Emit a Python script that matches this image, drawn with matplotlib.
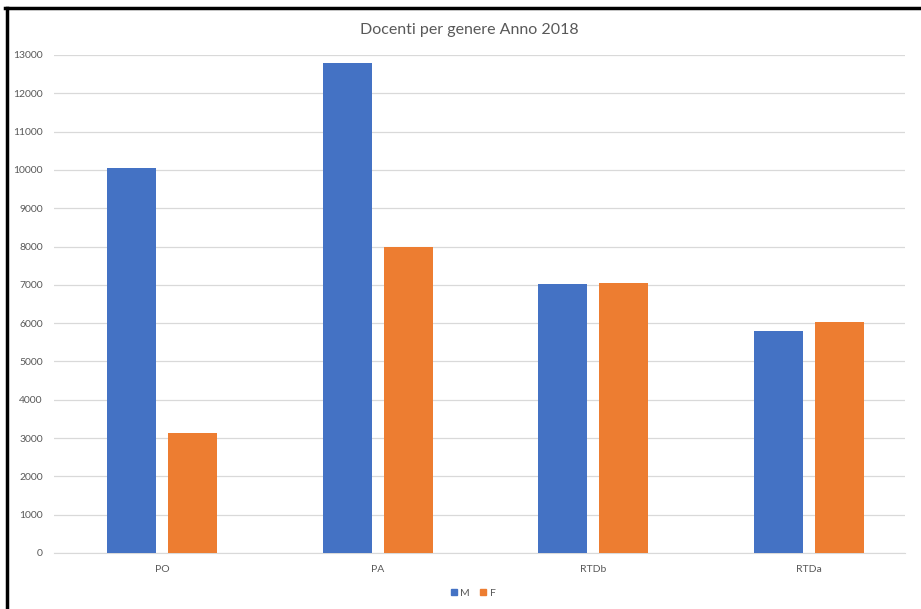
import numpy as np
import matplotlib
matplotlib.use("Agg")
import matplotlib.pyplot as plt
from matplotlib.lines import Line2D

categories = ["PO", "PA", "RTDb", "RTDa"]
maschi = [10050, 12790, 7010, 5790]
femmine = [3130, 7990, 7050, 6020]
y_ticks = list(range(0, 14000, 1000))

plt.rcParams["font.family"] = ["Lato", "DejaVu Sans"]

fig = plt.figure(figsize=(9.21, 6.09), dpi=100)
W, H = 921, 609
ax = fig.add_axes([54 / W, 56 / H, (905 - 54) / W, 498 / H])

x = np.arange(len(categories))
bw = 0.227
off = 0.141
ax.bar(x - off, maschi, bw, color="#4472C4", label="M", zorder=3)
ax.bar(x + off, femmine, bw, color="#ED7D31", label="F", zorder=3)

ax.set_xlim(-0.5, 3.5 - 12 / 215.7)
ax.set_ylim(0, 13000)
ax.set_yticks(y_ticks)
ax.set_yticklabels([str(v) for v in y_ticks])
ax.set_xticks(x)
ax.set_xticklabels(categories)

ax.grid(axis="y", color="#D9D9D9", linewidth=0.9, zorder=0)
for s in ["top", "right", "left"]:
    ax.spines[s].set_visible(False)
ax.spines["bottom"].set_color("#D9D9D9")
ax.tick_params(axis="both", length=0, labelsize=7.5, labelcolor="#595959")
ax.tick_params(axis="y", pad=8)
ax.tick_params(axis="x", pad=9)

fig.text(469 / W, 1 - 30 / H, "Docenti per genere Anno 2018", ha="center", va="center",
         fontsize=11.5, color="#595959")

handles = [Line2D([], [], marker="s", linestyle="", markersize=5, color="#4472C4"),
           Line2D([], [], marker="s", linestyle="", markersize=5, color="#ED7D31")]
fig.legend(handles, ["M", "F"], loc="center", bbox_to_anchor=(472 / W, 1 - 593 / H),
           ncol=2, frameon=False, fontsize=7.5, labelcolor="#595959",
           handletextpad=0.1, columnspacing=0.8, handlelength=1.0)

# black frame on left and top as in the scan
fig.add_artist(Line2D([6.5 / W, 6.5 / W], [0, 1 - 8 / H], transform=fig.transFigure,
                      color="black", linewidth=2.5))
fig.add_artist(Line2D([5 / W, 921 / W], [1 - 8 / H, 1 - 8 / H], transform=fig.transFigure,
                      color="black", linewidth=2.5))

fig.savefig("out.png", dpi=100)
